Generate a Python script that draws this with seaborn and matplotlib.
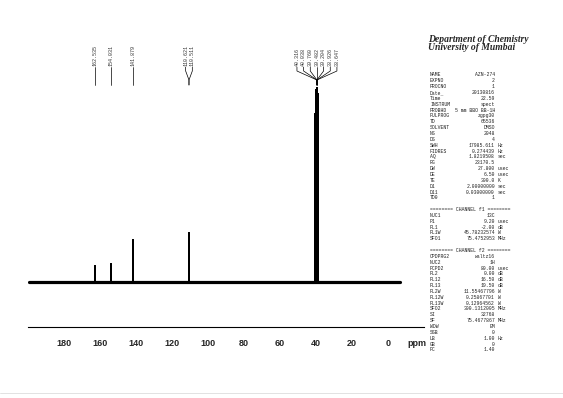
import numpy as np
import pandas as pd
import matplotlib.pyplot as plt
import seaborn as sns

# picked peaks (ppm) and their heights
peak_ppm = [162.535, 154.031, 141.879, 110.621, 110.511,
            40.316, 40.038, 39.760, 39.482, 39.204, 38.926, 38.647]
peak_height = [16, 18, 42, 49, 45, 168, 188, 192, 194, 192, 188, 168]
peak_group = [0, 1, 2, 3, 3, 4, 4, 4, 4, 4, 4, 4]

# recorded spectral window (ppm)
spec_start, spec_end = 199.5, -6.5

major_ticks = [180, 160, 140, 120, 100, 80, 60, 40, 20, 0]
tick_labels = ['180', '160', '140', '120', '100', '80', '60', '40', '20', '0']
minor_ticks = [190, 170, 150, 130, 110, 90, 70, 50, 30, 10, -10]

header = ['Department of Chemistry', 'University of Mumbai']

param_names = ['NAME', 'EXPNO', 'PROCNO', 'Date_', 'Time', 'INSTRUM', 'PROBHD', 'PULPROG',
               'TD', 'SOLVENT', 'NS', 'DS', 'SWH', 'FIDRES', 'AQ', 'RG', 'DW', 'DE', 'TE',
               'D1', 'D11', 'TD0', '',
               '======== CHANNEL f1 ========',
               'NUC1', 'P1', 'PL1', 'PL1W', 'SFO1', '',
               '======== CHANNEL f2 ========',
               'CPDPRG2', 'NUC2', 'PCPD2', 'PL2', 'PL12', 'PL13', 'PL2W', 'PL12W', 'PL13W',
               'SFO2', 'SI', 'SF', 'WDW', 'SSB', 'LB', 'GB', 'PC']
param_values = ['AZN-274', '2', '1', '20130816', '22.59', 'spect', '5 mm BBO BB-1H', 'zgpg30',
                '65536', 'DMSO', '2048', '4', '17985.611', '0.274439', '1.8219508', '23170.5',
                '27.800', '6.50', '300.0', '2.00000000', '0.03000000', '1', '',
                '',
                '13C', '9.20', '-2.00', '45.78232574', '75.4752953', '',
                '',
                'waltz16', '1H', '80.00', '0.00', '16.50', '19.50', '11.55467796', '0.25867701',
                '0.12964562', '300.1312005', '32768', '75.4677867', 'EM', '0', '1.00', '0', '1.40']
param_units = ['', '', '', '', '', '', '', '', '', '', '', '', 'Hz', 'Hz', 'sec', '', 'usec',
               'usec', 'K', 'sec', 'sec', '', '', '',
               '', 'usec', 'dB', 'W', 'MHz', '', '',
               '', '', 'usec', 'dB', 'dB', 'dB', 'W', 'W', 'W', 'MHz', '', 'MHz', '', '', 'Hz', '', '']

sns.set_style('white')
W, H = 563, 398
fig = plt.figure(figsize=(W / 100, H / 100), dpi=100)
ax = fig.add_axes([28 / W, (H - 327) / H, 396 / W, 297 / H])

# baseline (noise band)
base = pd.DataFrame({'ppm': [spec_start, spec_end], 'I': [0, 0]})
sns.lineplot(data=base, x='ppm', y='I', color='black', lw=2.3, ax=ax)

# stick spectrum
xs, ys = [], []
for p, h in zip(peak_ppm, peak_height):
    xs += [p, p, p]
    ys += [0, h, 0]
sticks = pd.DataFrame({'ppm': xs, 'I': ys})
sns.lineplot(data=sticks, x='ppm', y='I', sort=False, estimator=None,
             color='black', lw=1.2, ax=ax)

# peak labels
df = pd.DataFrame({'ppm': peak_ppm, 'g': peak_group})
for g, sub in df.groupby('g'):
    ppm = sub['ppm'].sort_values(ascending=False).values
    n = len(ppm)
    centre = ppm.mean()
    lx = centre - (np.arange(n) - (n - 1) / 2) * 3.7
    for p, x in zip(ppm, lx):
        ax.plot([x, x, centre, centre], [215, 211, 202, 197], color='black', lw=0.5,
                clip_on=False)
        ax.text(x, 216.5, f'{p:.3f}', rotation=90, ha='center', va='bottom',
                fontsize=3.6, family='Liberation Mono', color='#333333', clip_on=False)

ax.set_xlim(200, -20)
ax.set_ylim(-45, 252)
ax.set_xlabel('')
ax.set_ylabel('')
ax.set_yticks([])
for s in ['left', 'top', 'right']:
    ax.spines[s].set_visible(False)
ax.spines['bottom'].set_linewidth(0.8)
ax.spines['bottom'].set_color('black')
ax.set_xticks(major_ticks)
ax.set_xticklabels(tick_labels, fontsize=6.5, fontweight='bold', family='Liberation Sans')
ax.set_xticks(minor_ticks, minor=True)
ax.tick_params(axis='x', which='major', direction='out', length=3, width=0.6, pad=6)
ax.tick_params(axis='x', which='minor', direction='out', length=2, width=0.6)
ax.patch.set_alpha(0)

fig.text(407 / W, 1 - 343 / H, 'ppm', fontsize=6.5, fontweight='bold',
         family='Liberation Sans', va='center', ha='left')

# title block
for i, t in enumerate(header):
    fig.text(428 / W, 1 - (40 + i * 8) / H, t, fontsize=6.9, fontweight='bold',
             fontstyle='italic', family='Liberation Serif', va='center', ha='left')

# acquisition parameters
y0, dy = 75, 5.85
for i, (nm, v, u) in enumerate(zip(param_names, param_values, param_units)):
    y = 1 - (y0 + i * dy) / H
    kw = dict(fontsize=3.4, family='Liberation Mono', va='center', color='#222222')
    fig.text(430 / W, y, nm, ha='left', **kw)
    if v:
        fig.text(495 / W, y, v, ha='right', **kw)
    if u:
        fig.text(498 / W, y, u, ha='left', **kw)

fig.add_artist(plt.Line2D([0, 1], [1 - 393 / H, 1 - 393 / H], color='#dddddd', lw=0.6))

fig.savefig('out.png', dpi=100, facecolor='white')
